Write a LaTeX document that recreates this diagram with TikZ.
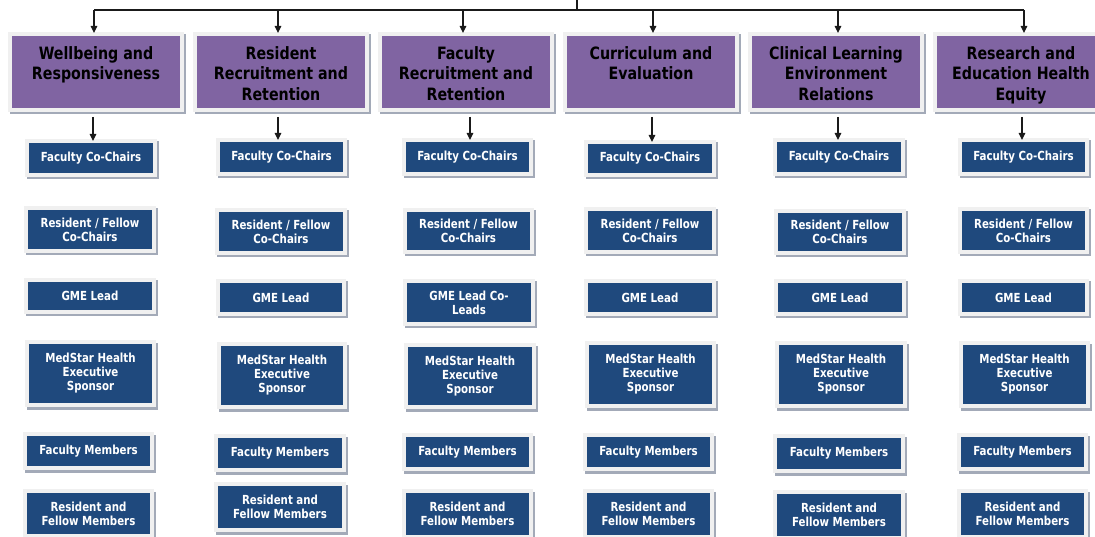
\documentclass[tikz,border=0pt]{standalone}
\usepackage{fontspec}
\usetikzlibrary{arrows.meta,calc}
\newfontfamily\hdrfont{DejaVu Sans Condensed}[FakeStretch=0.93]
\newfontfamily\smfont{DejaVu Sans Condensed}[FakeStretch=0.91]
\definecolor{purp}{HTML}{8064A2}
\definecolor{navy}{HTML}{1F497D}
\definecolor{framec}{HTML}{F0F0F0}
\definecolor{outlc}{HTML}{D6D6D6}
\definecolor{shadc}{HTML}{A3AAB8}
\definecolor{linec}{HTML}{1A1A1A}
\tikzset{
  framed/.style={rectangle, inner sep=0pt, outer sep=0pt,
    preaction={draw=shadc, line width=8pt, transform canvas={shift={(1.5pt,-2.5pt)}}},
    preaction={draw=outlc, line width=8.6pt},
    preaction={draw=framec, line width=7.6pt}},
  hbox/.style={framed, fill=purp, minimum width=168pt, minimum height=72pt},
  htext/.style={inner sep=0pt, font=\hdrfont\bfseries\fontsize{17pt}{20.5pt}\selectfont, text=black},
  sbox/.style={framed, fill=navy, text=white, align=center,
    font=\smfont\bfseries\fontsize{12.5pt}{14pt}\selectfont},
  arr/.style={draw=linec, line width=1.2pt, -{Triangle[length=7pt,width=6.5pt]}},
  plainline/.style={draw=linec, line width=1.2pt}
}
\begin{document}
\begin{tikzpicture}[x=1pt,y=-1pt]
\useasboundingbox (0,0) rectangle (1095,537);
\clip (0,0) rectangle (1095,537);
\fill[white] (0,0) rectangle (1095,537);

% headers
\foreach \i/\x/\t in {
  1/96/{Wellbeing and\\Responsiveness},
  2/281/{Resident\\Recruitment and\\Retention},
  3/466/{Faculty\\Recruitment and\\Retention},
  4/651/{Curriculum and\\Evaluation},
  5/836/{Clinical Learning\\Environment\\Relations},
  6/1021/{Research and\\Education Health\\Equity}}{
  \node[hbox] (h\i) at (\x,72) {};
  \node[htext, anchor=base] (h\i t) at (\x,59.5) {\parbox[t]{200pt}{\centering \t}};
}

% small boxes
\foreach \n/\x/\y/\w/\h/\t in {
  c1a/91/158/124/30/{Faculty Co-Chairs},
  c1b/90/229.5/124/39/{Resident / Fellow\\Co-Chairs},
  c1c/90/296/124/28/{GME Lead},
  c1d/90.5/373.5/123/59/{MedStar Health\\Executive\\Sponsor},
  c1e/88.5/451/123/30/{Faculty Members},
  c1f/88.5/513.5/123/41/{Resident and\\Fellow Members},
  c2a/281.5/157/123/30/{Faculty Co-Chairs},
  c2b/281/231.5/124/39/{Resident / Fellow\\Co-Chairs},
  c2c/281/297.5/122/29/{GME Lead},
  c2d/282/375.5/122/59/{MedStar Health\\Executive\\Sponsor},
  c2e/280/453/124/30/{Faculty Members},
  c2f/280/507/124/42/{Resident and\\Fellow Members},
  c3a/467.5/157/123/30/{Faculty Co-Chairs},
  c3b/468.5/231/123/38/{Resident / Fellow\\Co-Chairs},
  c3c/469/302.5/124/39/{GME Lead Co-\\Leads},
  c3d/470/376/124/58/{MedStar Health\\Executive\\Sponsor},
  c3e/467.5/452/123/30/{Faculty Members},
  c3f/467.5/514/123/42/{Resident and\\Fellow Members},
  c4a/650/158.5/124/29/{Faculty Co-Chairs},
  c4b/650/230.5/124/39/{Resident / Fellow\\Co-Chairs},
  c4c/650/297.5/124/29/{GME Lead},
  c4d/650.5/374.5/123/59/{MedStar Health\\Executive\\Sponsor},
  c4e/648.5/452/123/30/{Faculty Members},
  c4f/648.5/514/123/42/{Resident and\\Fellow Members},
  c5a/839/157/124/30/{Faculty Co-Chairs},
  c5b/840/232/124/38/{Resident / Fellow\\Co-Chairs},
  c5c/840/297.5/124/29/{GME Lead},
  c5d/841/374.5/124/59/{MedStar Health\\Executive\\Sponsor},
  c5e/839/453.5/124/31/{Faculty Members},
  c5f/839/515/124/42/{Resident and\\Fellow Members},
  c6a/1023.5/157/123/30/{Faculty Co-Chairs},
  c6b/1023.5/230.5/123/39/{Resident / Fellow\\Co-Chairs},
  c6c/1023.5/297.5/123/29/{GME Lead},
  c6d/1024.5/374.5/123/59/{MedStar Health\\Executive\\Sponsor},
  c6e/1022.5/452/123/30/{Faculty Members},
  c6f/1022.5/514/123/42/{Resident and\\Fellow Members}}{
  \node[sbox, minimum width=\w pt, minimum height=\h pt] (\n) at (\x,\y) {\t};
}

% top connectors
\coordinate (top) at (577,0);
\coordinate (jn) at (577,10);
\draw[plainline] (top) -- (jn);
\foreach \i/\xa/\xb in {1/94/93, 2/278/278, 3/463/470, 4/653/652, 5/838/838, 6/1024/1022}{
  \coordinate (t\i) at (\xa,10);
  \coordinate (d\i) at (\xb,117);
}
\draw[plainline] (t1) -- (t6);
\foreach \i in {1,...,6}{
  \draw[arr] (t\i) -- ($(t\i |- h\i.north)+(0,-3)$);
  \draw[arr] (d\i) -- ($(d\i |- c\i a.north)+(0,-2)$);
}
\end{tikzpicture}
\end{document}
